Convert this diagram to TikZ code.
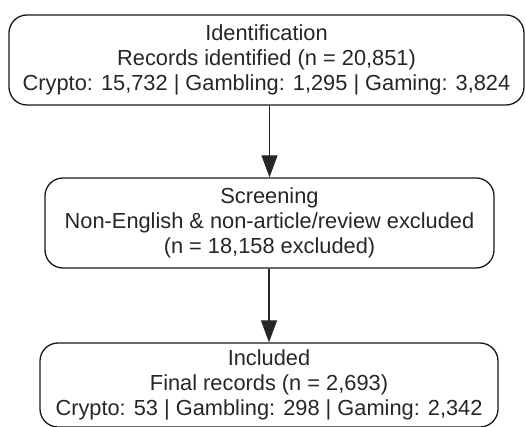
\documentclass[tikz,border=0pt]{standalone}
\usepackage{fontspec}
\setmainfont{Liberation Sans}
\usetikzlibrary{arrows.meta}
\tikzset{
  stage/.style={draw=black!90, line width=1.3pt, rounded corners=18pt, align=center,
    inner sep=0pt, text=black!85,
    font=\fontsize{21.8}{25}\selectfont},
  flow/.style={draw=black!85, line width=1.1pt,
    -{Triangle[length=22pt,width=16pt]}}
}
\begin{document}
\begin{tikzpicture}[x=1pt,y=1pt]
\useasboundingbox (0,0) rectangle (526,427);
\node[stage, minimum width=515pt, minimum height=90pt] (ident) at (266.5,367)
  {Identification\\Records identified (n = 20,851)\\Crypto: 15,732 | Gambling: 1,295 | Gaming: 3,824};
\node[stage, minimum width=449pt, minimum height=90pt] (screen) at (269.5,204)
  {Screening\\Non-English \& non-article/review excluded\\(n = 18,158 excluded)};
\node[stage, minimum width=458pt, minimum height=84pt] (incl) at (269,42)
  {Included\\Final records (n = 2,693)\\Crypto: 53 | Gambling: 298 | Gaming: 2,342};
\draw[flow] (ident.south -| screen.north) -- (screen.north);
\draw[flow] (screen.south -| incl.north) -- (incl.north);
\end{tikzpicture}
\end{document}
